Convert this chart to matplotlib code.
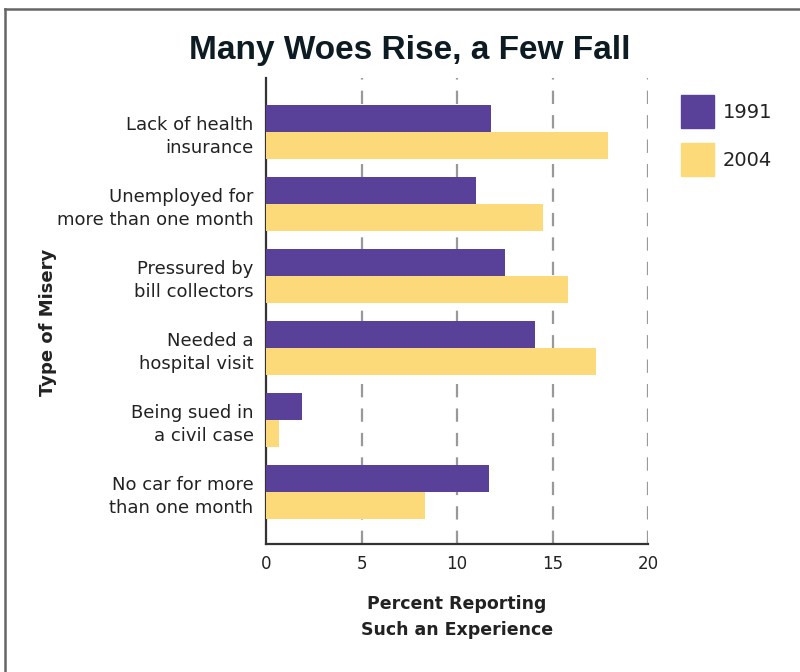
import matplotlib
matplotlib.use("Agg")
import matplotlib.pyplot as plt
from matplotlib.patches import Rectangle
from matplotlib.lines import Line2D
import numpy as np

categories = ["Lack of health\ninsurance", "Unemployed for\nmore than one month",
              "Pressured by\nbill collectors", "Needed a\nhospital visit",
              "Being sued in\na civil case", "No car for more\nthan one month"]
v1991 = [11.8, 11.0, 12.5, 14.1, 1.9, 11.7]
v2004 = [17.9, 14.5, 15.8, 17.3, 0.7, 8.3]
series_names = ["1991", "2004"]
xticks = [0, 5, 10, 15, 20]

PURPLE = "#594099"
YELLOW = "#FDDA79"
TXT = "#222222"

fig = plt.figure(figsize=(8, 6.72), dpi=100)
ax = fig.add_axes([266/800, 1-544/672, (648-266)/800, (544-78)/672])

y = np.arange(len(categories))
h = 0.375
ax.barh(y - h/2, v1991, height=h, color=PURPLE, zorder=3)
ax.barh(y + h/2, v2004, height=h, color=YELLOW, zorder=3)

ax.set_xlim(0, 20)
ax.set_ylim(5.72, -0.75)
ax.set_xticks(xticks)
ax.set_xticklabels([str(t) for t in xticks], fontsize=12, color=TXT, family="DejaVu Sans")
ax.set_yticks(y)
ax.set_yticklabels(categories, fontsize=13, color=TXT, linespacing=1.35)
ax.tick_params(axis="both", length=0)
ax.tick_params(axis="x", pad=8)
ax.tick_params(axis="y", pad=9)

for t in xticks[1:]:
    ax.axvline(t, color="#999999", lw=1.6, dashes=(6, 5), zorder=1)

for s in ["top", "right"]:
    ax.spines[s].set_visible(False)
for s in ["left", "bottom"]:
    ax.spines[s].set_color("#333333")
    ax.spines[s].set_linewidth(1.6)

ax.set_xlabel("Percent Reporting\nSuch an Experience", fontsize=12.5, fontweight="bold",
              color=TXT, labelpad=16, linespacing=1.55)
fig.text(48/800, 1-322/672, "Type of Misery", rotation=90, fontsize=13, fontweight="bold",
         color=TXT, ha="center", va="center")

fig.text(410/800, 1-51/672, "Many Woes Rise, a Few Fall",
         fontsize=24, fontweight="bold", color="#0d1b22", ha="center", va="center",
         family=["Liberation Sans", "DejaVu Sans"])

# legend
for i, (name, col) in enumerate(zip(series_names, [PURPLE, YELLOW])):
    top = 95 + i*48
    fig.patches.append(Rectangle((681/800, 1-(top+33)/672), 33/800, 33/672,
                                 transform=fig.transFigure, color=col, figure=fig))
    fig.text(723/800, 1-(top+17)/672, name, fontsize=14, color=TXT, ha="left", va="center")

# frame
fig.lines.append(Line2D([5/800, 5/800], [0, 1-9/672], transform=fig.transFigure,
                        color="#666666", lw=1.8))
fig.lines.append(Line2D([5/800, 1], [1-9/672, 1-9/672], transform=fig.transFigure,
                        color="#666666", lw=1.8))

fig.savefig("out.png", dpi=100, facecolor="white")
